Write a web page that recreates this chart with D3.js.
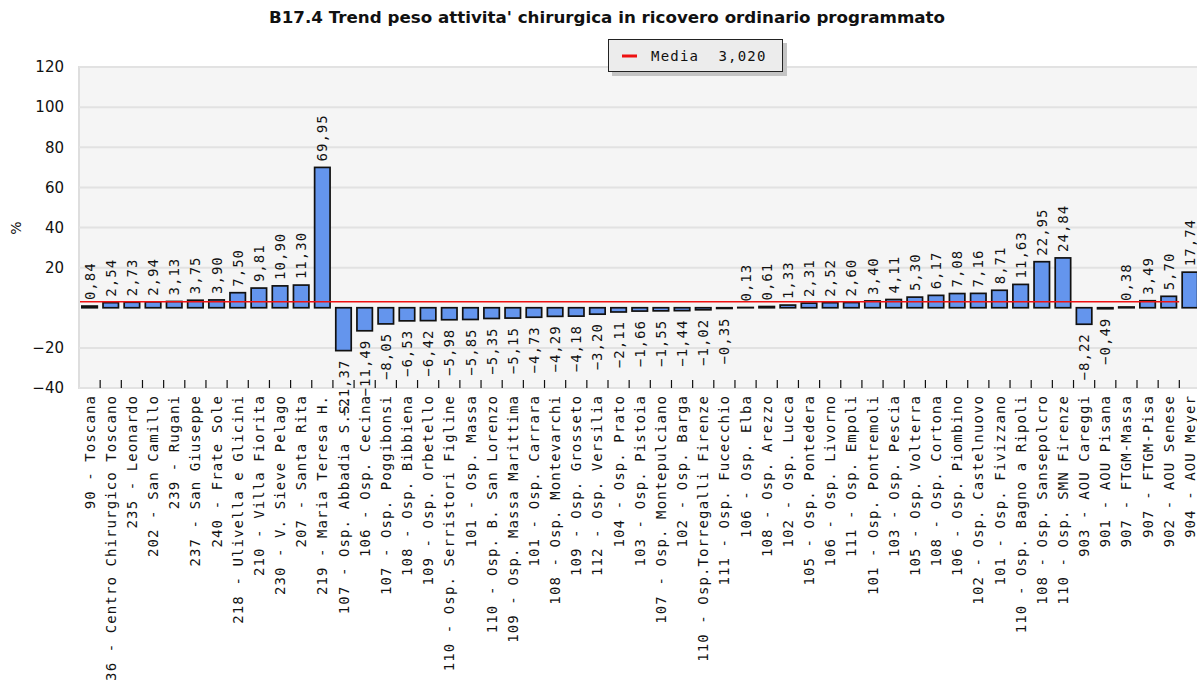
<!DOCTYPE html>
<html>
<head>
<meta charset="utf-8">
<script src="https://cdn.jsdelivr.net/npm/d3@7"></script>
<style>
  html, body { margin: 0; padding: 0; background: #ffffff; }
  svg { display: block; }
</style>
</head>
<body>
<svg id="chart" width="1197" height="693"></svg>
<script>
const categories = [
  "90 - Toscana",
  "36 - Centro Chirurgico Toscano",
  "235 - Leonardo",
  "202 - San Camillo",
  "239 - Rugani",
  "237 - San Giuseppe",
  "240 - Frate Sole",
  "218 - Ulivella e Glicini",
  "210 - Villa Fiorita",
  "230 - V. Sieve Pelago",
  "207 - Santa Rita",
  "219 - Maria Teresa H.",
  "107 - Osp. Abbadia S.S.",
  "106 - Osp. Cecina",
  "107 - Osp. Poggibonsi",
  "108 - Osp. Bibbiena",
  "109 - Osp. Orbetello",
  "110 - Osp. Serristori Figline",
  "101 - Osp. Massa",
  "110 - Osp. B. San Lorenzo",
  "109 - Osp. Massa Marittima",
  "101 - Osp. Carrara",
  "108 - Osp. Montevarchi",
  "109 - Osp. Grosseto",
  "112 - Osp. Versilia",
  "104 - Osp. Prato",
  "103 - Osp. Pistoia",
  "107 - Osp. Montepulciano",
  "102 - Osp. Barga",
  "110 - Osp.Torregalli Firenze",
  "111 - Osp. Fucecchio",
  "106 - Osp. Elba",
  "108 - Osp. Arezzo",
  "102 - Osp. Lucca",
  "105 - Osp. Pontedera",
  "106 - Osp. Livorno",
  "111 - Osp. Empoli",
  "101 - Osp. Pontremoli",
  "103 - Osp. Pescia",
  "105 - Osp. Volterra",
  "108 - Osp. Cortona",
  "106 - Osp. Piombino",
  "102 - Osp. Castelnuovo",
  "101 - Osp. Fivizzano",
  "110 - Osp. Bagno a Ripoli",
  "108 - Osp. Sansepolcro",
  "110 - Osp. SMN Firenze",
  "903 - AOU Careggi",
  "901 - AOU Pisana",
  "907 - FTGM-Massa",
  "907 - FTGM-Pisa",
  "902 - AOU Senese",
  "904 - AOU Meyer"
];

const values = [
  0.84, 2.54, 2.73, 2.94, 3.13, 3.75, 3.90, 7.50, 9.81, 10.90, 11.30, 69.95,
  -21.37, -11.49, -8.05, -6.53, -6.42, -5.98, -5.85, -5.35, -5.15, -4.73,
  -4.29, -4.18, -3.20, -2.11, -1.66, -1.55, -1.44, -1.02, -0.35,
  0.13, 0.61, 1.33, 2.31, 2.52, 2.60, 3.40, 4.11, 5.30, 6.17, 7.08, 7.16,
  8.71, 11.63, 22.95, 24.84, -8.22, -0.49, 0.38, 3.49, 5.70, 17.74
];

const meanValue = 3.020;
const meanLabel = "Media  3,020";
const yTickValues = [120, 100, 80, 60, 40, 20, -20, -40];
const titleText = "B17.4 Trend peso attivita' chirurgica in ricovero ordinario programmato";
const yAxisTitle = "%";

const data = categories.map((c, i) => ({ cat: c, value: values[i] }));

const svg = d3.select("#chart");
const monoFont = "'DejaVu Sans Mono', 'Liberation Mono', monospace";
const sansFont = "'DejaVu Sans', Verdana, sans-serif";

const plotLeft = 79, plotTop = 67, plotBottom = 388;
const step = 21.16;

const x = d3.scaleBand()
  .domain(categories)
  .range([plotLeft, plotLeft + categories.length * step])
  .paddingInner(0.27)
  .paddingOuter(0.135);

const y = d3.scaleLinear().domain([-40, 120]).range([plotBottom, plotTop]);

// Title
svg.append("text")
  .attr("x", 607).attr("y", 23)
  .attr("text-anchor", "middle")
  .attr("font-family", sansFont)
  .attr("font-weight", "bold")
  .attr("font-size", 15)
  .attr("fill", "#111")
  .attr("textLength", 676)
  .attr("lengthAdjust", "spacingAndGlyphs")
  .text(titleText);

// Plot background
svg.append("rect")
  .attr("x", plotLeft).attr("y", plotTop)
  .attr("width", 1197 - plotLeft + 10).attr("height", plotBottom - plotTop)
  .attr("fill", "#f5f5f5")
  .attr("stroke", "#dedede").attr("stroke-width", 2);

// Gridlines
svg.append("g").selectAll("line")
  .data(yTickValues)
  .join("line")
  .attr("x1", plotLeft).attr("x2", 1197)
  .attr("y1", d => y(d)).attr("y2", d => y(d))
  .attr("stroke", "#e2e2e2").attr("stroke-width", 2);

// Y axis labels
const yAxis = svg.append("g")
  .attr("transform", `translate(${plotLeft - 12},0)`)
  .call(d3.axisLeft(y).tickValues(yTickValues).tickSize(0).tickFormat(d3.format("d")));
yAxis.select(".domain").remove();
yAxis.selectAll("text")
  .attr("font-family", sansFont)
  .attr("font-size", 15)
  .attr("fill", "#111");

// Y axis title
svg.append("text")
  .attr("transform", "translate(21,228) rotate(-90)")
  .attr("text-anchor", "middle")
  .attr("font-family", sansFont)
  .attr("font-size", 14)
  .attr("fill", "#111")
  .text(yAxisTitle);

// Bars
svg.append("g").selectAll("rect")
  .data(data)
  .join("rect")
  .attr("x", d => x(d.cat))
  .attr("width", x.bandwidth())
  .attr("y", d => y(Math.max(0, d.value)))
  .attr("height", d => Math.abs(y(d.value) - y(0)))
  .attr("fill", "#6495ed")
  .attr("stroke", "#111")
  .attr("stroke-width", 1.7);

// Mean line
svg.append("line")
  .attr("x1", plotLeft + 1)
  .attr("x2", x(categories[categories.length - 1]) - 3)
  .attr("y1", y(meanValue)).attr("y2", y(meanValue))
  .attr("stroke", "#ee1111").attr("stroke-width", 1.5);

// Value labels
const fmt = v => d3.format(".2f")(v).replace(".", ",");
svg.append("g").selectAll("text")
  .data(data)
  .join("text")
  .attr("transform", d => {
    const cx = x(d.cat) + x.bandwidth() / 2;
    const cy = d.value >= 0 ? y(d.value) - 6 : y(d.value) + 9;
    return `translate(${cx},${cy}) rotate(-90)`;
  })
  .attr("dy", "0.36em")
  .attr("text-anchor", d => d.value >= 0 ? "start" : "end")
  .attr("font-family", monoFont)
  .attr("font-size", 14)
  .attr("letter-spacing", 1)
  .attr("fill", "#111")
  .text(d => fmt(d.value));

// Tick marks at category boundaries
const boundaries = categories.slice(1).map(c => x(c) - x.step() * x.paddingInner() / 2);
svg.append("g").selectAll("line")
  .data(boundaries)
  .join("line")
  .attr("x1", d => d).attr("x2", d => d)
  .attr("y1", plotBottom - 8).attr("y2", plotBottom)
  .attr("stroke", "#111").attr("stroke-width", 1.2);

// X axis labels
const xAxis = svg.append("g")
  .attr("transform", `translate(0,${plotBottom})`)
  .call(d3.axisBottom(x).tickSize(0));
xAxis.select(".domain").remove();
xAxis.selectAll("text")
  .attr("transform", "rotate(-90)")
  .attr("x", -7).attr("y", 0)
  .attr("dy", "0.36em")
  .attr("text-anchor", "end")
  .attr("font-family", monoFont)
  .attr("font-size", 14)
  .attr("letter-spacing", 1.1)
  .attr("fill", "#111");

// Legend
const lg = svg.append("g");
lg.append("rect").attr("x", 612).attr("y", 43).attr("width", 175).attr("height", 33).attr("fill", "#c4c4c4");
lg.append("rect").attr("x", 608.5).attr("y", 39.5).attr("width", 174).attr("height", 32)
  .attr("fill", "#ececec").attr("stroke", "#222").attr("stroke-width", 1);
lg.append("line").attr("x1", 622).attr("x2", 637).attr("y1", 56).attr("y2", 56)
  .attr("stroke", "#ee1111").attr("stroke-width", 3);
lg.append("text").attr("x", 651).attr("y", 56).attr("dy", "0.36em")
  .attr("font-family", monoFont).attr("font-size", 14).attr("letter-spacing", 1.2)
  .attr("fill", "#111").attr("xml:space", "preserve").style("white-space", "pre")
  .text(meanLabel);
</script>
</body>
</html>
